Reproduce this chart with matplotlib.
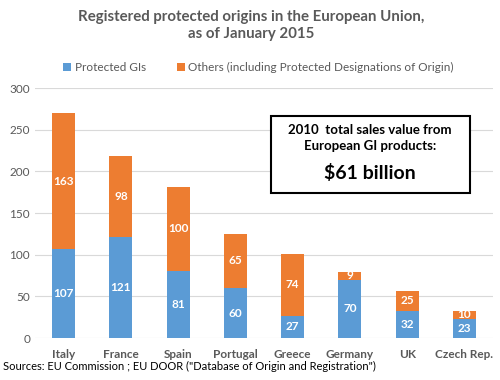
import matplotlib
matplotlib.use("Agg")
import matplotlib.pyplot as plt

categories = ["Italy", "France", "Spain", "Portugal", "Greece", "Germany", "UK", "Czech Rep."]
protected_gis = [107, 121, 81, 60, 27, 70, 32, 23]
others = [163, 98, 100, 65, 74, 9, 25, 10]
yticks = [0, 50, 100, 150, 200, 250, 300]

plt.rcParams['font.family'] = ['Lato', 'DejaVu Sans']
blue = "#5B9BD5"
orange = "#ED7D31"
gray = "#595959"

fig = plt.figure(figsize=(5, 3.8), dpi=100)
ax = fig.add_axes([0.07, 0.1105, 0.916, 0.6575])
x = list(range(len(categories)))
b1 = ax.bar(x, protected_gis, width=0.4, color=blue, label="Protected GIs", zorder=3)
b2 = ax.bar(x, others, width=0.4, bottom=protected_gis, color=orange,
            label="Others (including Protected Designations of Origin)", zorder=3)
for bars, vals in ((b1, protected_gis), (b2, others)):
    ax.bar_label(bars, labels=[str(v) for v in vals], label_type='center',
                 color='white', fontsize=8.5, fontweight='bold')

ax.set_ylim(0, 300)
ax.set_xlim(-0.5, len(categories) - 0.5)
ax.set_yticks(yticks)
ax.set_xticks(x)
ax.set_xticklabels(categories)
ax.tick_params(axis='both', length=0, colors=gray, labelsize=8.5)
ax.tick_params(axis='x', pad=8)
for lbl in ax.get_xticklabels():
    lbl.set_fontweight('bold')
ax.yaxis.grid(True, color="#D9D9D9", linewidth=0.8, zorder=0)
for s in ax.spines.values():
    s.set_visible(False)

fig.text(0.503, 0.975, "Registered protected origins in the European Union,\nas of January 2015",
         ha='center', va='top', fontsize=10.8, fontweight='bold', color=gray, linespacing=1.3)
fig.legend(handles=[b1, b2], loc='center', bbox_to_anchor=(0.517, 0.822), ncol=2,
           frameon=False, fontsize=8.5, handlelength=0.7, handleheight=0.7,
           columnspacing=2.6, handletextpad=0.3, labelcolor=gray)

fig.text(0.006, 0.02, 'Sources: EU Commission ; EU DOOR ("Database of Origin and Registration")',
         ha='left', va='bottom', fontsize=8, color='black')

# annotation box
from matplotlib.patches import Rectangle
fig.patches.append(Rectangle((271/500, 1-193/380), 199/500, 77/380, transform=fig.transFigure,
                             facecolor='white', edgecolor='black', linewidth=1.5, zorder=5))
fig.text(370/500, 1-138/380, "2010  total sales value from\nEuropean GI products:",
         ha='center', va='center', fontsize=9.5, fontweight='bold', color='black',
         linespacing=1.3, zorder=6)
fig.text(370/500, 1-173/380, "$61 billion", ha='center', va='center', fontsize=14,
         fontweight='bold', color='black', zorder=6)

fig.savefig("out.png", dpi=100)
